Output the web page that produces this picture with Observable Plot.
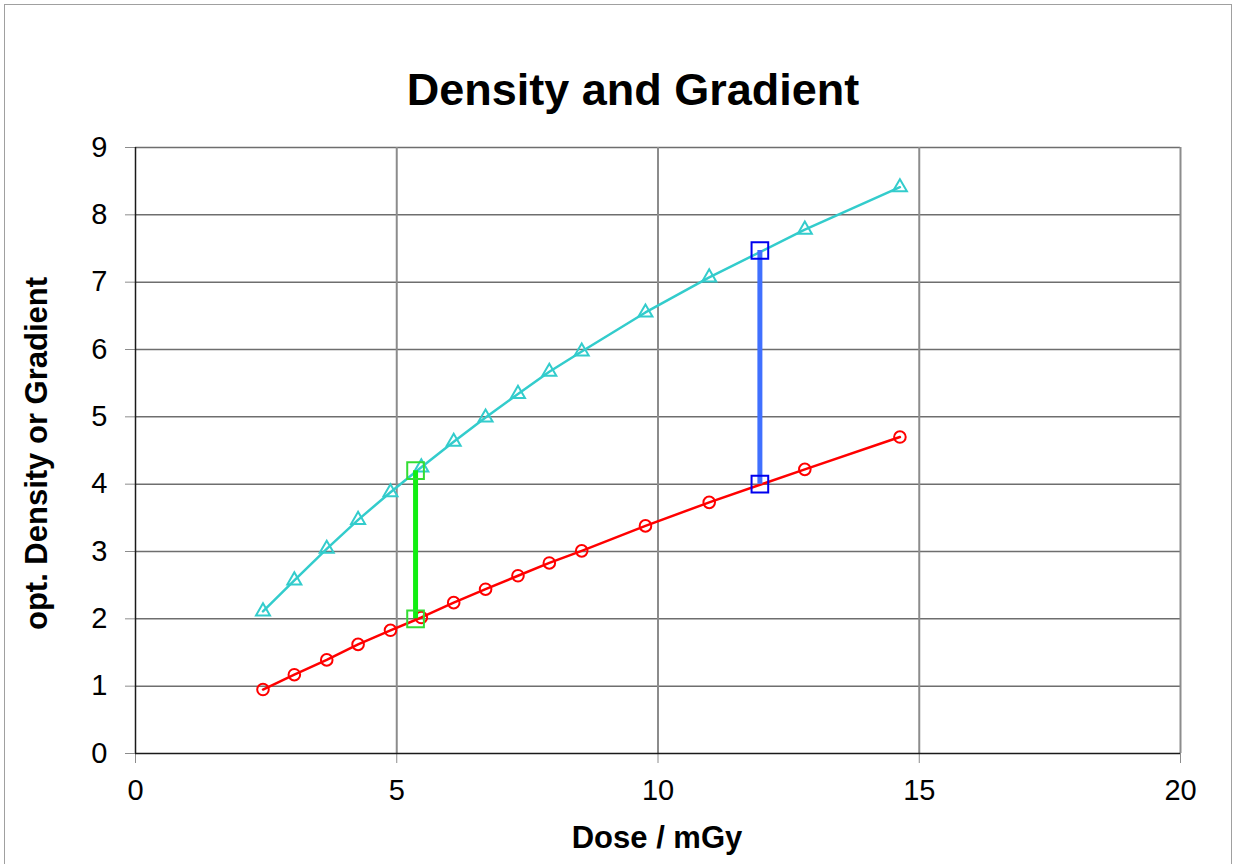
<!DOCTYPE html>
<html>
<head>
<meta charset="utf-8">
<script src="https://cdn.jsdelivr.net/npm/d3@7"></script>
<script src="https://cdn.jsdelivr.net/npm/@observablehq/plot@0.6"></script>
<style>
  html, body { margin: 0; padding: 0; background: #fff; overflow: hidden; }
  #wrap { position: relative; width: 1234px; height: 864px; }
  #border { position: absolute; left: 4px; top: 4px; width: 1228px; height: 900px; border: 1.5px solid #a0a0a0; box-sizing: border-box; pointer-events: none; }
  #chart { position: absolute; left: 0; top: 0; }
</style>
</head>
<body>
<div id="wrap"><div id="chart"></div><div id="border"></div></div>
<script>
// ---- data ----
const dose     = [2.44, 3.04, 3.66, 4.26, 4.88, 5.47, 6.09, 6.70, 7.32, 7.92, 8.54, 9.76, 10.98, 12.81, 14.63];
const density  = [0.95, 1.17, 1.39, 1.62, 1.83, 2.02, 2.24, 2.44, 2.64, 2.83, 3.01, 3.38, 3.73, 4.22, 4.70];
const gradient = [2.11, 2.57, 3.04, 3.47, 3.88, 4.25, 4.63, 4.99, 5.34, 5.67, 5.97, 6.55, 7.07, 7.78, 8.41];

const markerDose = [5.36, 11.95];
const markerLow  = [2.0, 4.0];
const markerHigh = [4.2, 7.47];
const markerBarColor = ["#11ee11", "#4070ff"];
const markerBoxColor = ["#33dd33", "#0000ee"];

const xTicks = [0, 5, 10, 15, 20];
const yTicks = [0, 1, 2, 3, 4, 5, 6, 7, 8, 9];

const titleText = "Density and Gradient";
const xLabel = "Dose / mGy";
const yLabel = "opt. Density or Gradient";

// ---- tables ----
const densityRows  = dose.map((d, i) => ({dose: d, value: density[i]}));
const gradientRows = dose.map((d, i) => ({dose: d, value: gradient[i]}));
const markerRows = markerDose.map((d, i) => ({dose: d, low: markerLow[i], high: markerHigh[i], bar: markerBarColor[i], box: markerBoxColor[i]}));
const markerEnds = markerRows.flatMap(m => [{dose: m.dose, value: m.low, box: m.box}, {dose: m.dose, value: m.high, box: m.box}]);

const font = "'Liberation Sans', Arial, Helvetica, sans-serif";

const chart = Plot.plot({
  width: 1234,
  height: 864,
  marginLeft: 135,
  marginRight: 54,
  marginTop: 147,
  marginBottom: 111,
  style: {fontFamily: font, background: "transparent", color: "black"},
  x: {domain: [0, 20], label: null},
  y: {domain: [0, 9], label: null},
  marks: [
    Plot.ruleY(yTicks.filter(t => t > 0), {stroke: "#6e6e6e", strokeWidth: 1.5}),
    Plot.ruleX(xTicks.filter(t => t > 0), {stroke: "#8c8c8c", strokeWidth: 2}),
    Plot.axisX({ticks: xTicks, tickSize: 10, tickPadding: 16, fontSize: 29, stroke: "#8c8c8c", fill: "black", label: null, tickFormat: d => String(d)}),
    Plot.axisY({ticks: yTicks, tickSize: 10, tickPadding: 18, fontSize: 29, stroke: "#8c8c8c", fill: "black", label: null, tickFormat: d => String(d)}),
    Plot.ruleX([0], {stroke: "#1a1a1a", strokeWidth: 1.5}),
    Plot.ruleY([0], {stroke: "#1a1a1a", strokeWidth: 1.5}),
    Plot.line(gradientRows, {x: "dose", y: "value", stroke: "#33cccc", strokeWidth: 2.5}),
    Plot.line(densityRows, {x: "dose", y: "value", stroke: "#ff0000", strokeWidth: 2.5}),
    Plot.dot(gradientRows, {x: "dose", y: "value", symbol: "triangle", r: 5.2, stroke: "#33cccc", strokeWidth: 2, fill: "none"}),
    Plot.dot(densityRows, {x: "dose", y: "value", symbol: "circle", r: 5.8, stroke: "#ff0000", strokeWidth: 2, fill: "none"}),
    Plot.ruleX(markerRows, {x: "dose", y1: "low", y2: "high", stroke: "bar", strokeWidth: 5}),
    Plot.dot(markerEnds, {x: "dose", y: "value", symbol: "square", r: 9.4, stroke: "box", strokeWidth: 2, fill: "none"}),
    Plot.text([titleText], {text: d => d, frameAnchor: "top", lineAnchor: "bottom", textAnchor: "middle", dy: -43, dx: -25, fontSize: 45, fontWeight: "bold", fill: "black"}),
    Plot.text([xLabel], {text: d => d, frameAnchor: "bottom", lineAnchor: "bottom", textAnchor: "middle", dy: 94, dx: -1, fontSize: 31, fontWeight: "bold", fill: "black"}),
    Plot.text([yLabel], {text: d => d, frameAnchor: "left", lineAnchor: "bottom", textAnchor: "middle", rotate: -90, dx: -89, dy: 3, fontSize: 31, fontWeight: "bold", fill: "black"})
  ]
});
document.getElementById("chart").appendChild(chart);
</script>
</body>
</html>
